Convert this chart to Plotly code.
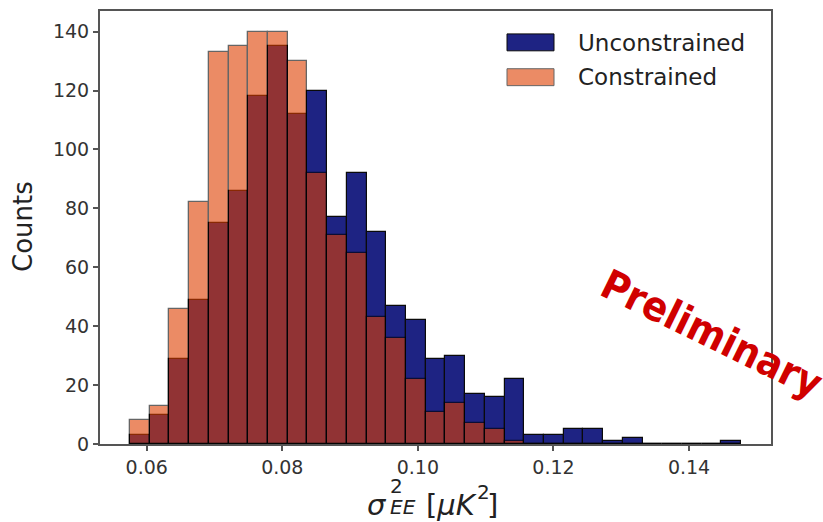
import plotly.graph_objects as go

# Histogram binning (shared by both samples)
bin_start = 0.05754
bin_width = 0.002908

# Counts per bin
unconstrained = [3, 10, 29, 49, 75, 86, 118, 135, 112, 120, 77, 92, 72, 47, 42, 29,
                 30, 17, 16, 22, 3, 3, 5, 5, 1, 2, 0, 0, 0, 0, 1]
constrained = [8, 13, 46, 82, 133, 135, 140, 140, 130, 92, 71, 65, 43, 36, 22, 11,
               14, 7, 5, 1, 0, 0, 0, 0, 0, 0, 0, 0, 0, 0, 0]

x_ticks = [0.06, 0.08, 0.10, 0.12, 0.14]
x_tick_labels = ["0.06", "0.08", "0.10", "0.12", "0.14"]
y_ticks = [0, 20, 40, 60, 80, 100, 120, 140]

centers = [bin_start + (i + 0.5) * bin_width for i in range(len(unconstrained))]

W, H = 823, 522
L, R, T, B = 100, 52, 9, 78
PW, PH = W - L - R, H - T - B

def px(x):
    return (x - L) / PW

def py(y):
    return (H - B - y) / PH

NAVY = "#1e2383"
ORANGE = "rgb(222,63,0)"
FONT = "DejaVu Sans, Verdana, sans-serif"

fig = go.Figure()
fig.add_bar(x=centers, y=unconstrained, width=bin_width, name="Unconstrained",
            marker=dict(color=NAVY, line=dict(color="#0a0a0a", width=1.2)))
fig.add_bar(x=centers, y=constrained, width=bin_width, name="Constrained", opacity=0.6,
            marker=dict(color=ORANGE, line=dict(color="#000000", width=1.3)))

axis_common = dict(showline=True, linecolor="#555", linewidth=2, mirror=True,
                   ticks="outside", ticklen=5, tickwidth=1.5, tickcolor="#555",
                   tickfont=dict(family=FONT, size=19, color="#333"),
                   showgrid=False, zeroline=False)

fig.update_layout(
    width=W, height=H, margin=dict(l=L, r=R, t=T, b=B),
    paper_bgcolor="white", plot_bgcolor="white",
    barmode="overlay", bargap=0, showlegend=False,
    xaxis=dict(range=[0.05311, 0.15209], tickvals=x_ticks, ticktext=x_tick_labels, **axis_common),
    yaxis=dict(range=[0, 147], tickvals=y_ticks, **axis_common),
)

ann = []
# y-axis label
ann.append(dict(text="Counts", x=px(23), y=py(226), textangle=-90,
                font=dict(family=FONT, size=26, color="#222")))
# x-axis label pieces: sigma^2_EE [muK^2]
big, small = 29, 20
ann.append(dict(text="<i>σ</i>", x=px(389), y=py(505), xanchor="right",
                font=dict(family=FONT, size=big, color="#222")))
ann.append(dict(text="2", x=px(388), y=py(486), xanchor="left",
                font=dict(family=FONT, size=small, color="#222")))
ann.append(dict(text="<i>EE</i>", x=px(388), y=py(507), xanchor="left",
                font=dict(family=FONT, size=small, color="#222")))
ann.append(dict(text="[<i>μK</i>", x=px(424), y=py(505), xanchor="left",
                font=dict(family=FONT, size=big, color="#222")))
ann.append(dict(text="2", x=px(475), y=py(492), xanchor="left",
                font=dict(family=FONT, size=small, color="#222")))
ann.append(dict(text="]", x=px(485), y=py(505), xanchor="left",
                font=dict(family=FONT, size=big, color="#222")))
# legend
ann.append(dict(text="Unconstrained", x=px(576), y=py(41), xanchor="left",
                font=dict(family=FONT, size=23, color="#222")))
ann.append(dict(text="Constrained", x=px(576), y=py(75), xanchor="left",
                font=dict(family=FONT, size=23, color="#222")))
# watermark
ann.append(dict(text="<b>Preliminary</b>", x=px(712), y=py(333), textangle=26,
                font=dict(family="DejaVu Sans Condensed, Liberation Sans Narrow, DejaVu Sans",
                          size=41, color="#d00000")))

for a in ann:
    a.setdefault("xanchor", "center")
    a.update(xref="paper", yref="paper", showarrow=False, yanchor="middle")
fig.update_layout(annotations=ann)

fig.update_layout(shapes=[
    dict(type="rect", xref="paper", yref="paper", x0=px(507), x1=px(554), y0=py(49), y1=py(32),
         fillcolor=NAVY, line=dict(color="#0a0a0a", width=1)),
    dict(type="rect", xref="paper", yref="paper", x0=px(507), x1=px(554), y0=py(84), y1=py(67),
         fillcolor=ORANGE, opacity=0.6, line=dict(color="#000000", width=1)),
])

fig.write_html("out.html")
